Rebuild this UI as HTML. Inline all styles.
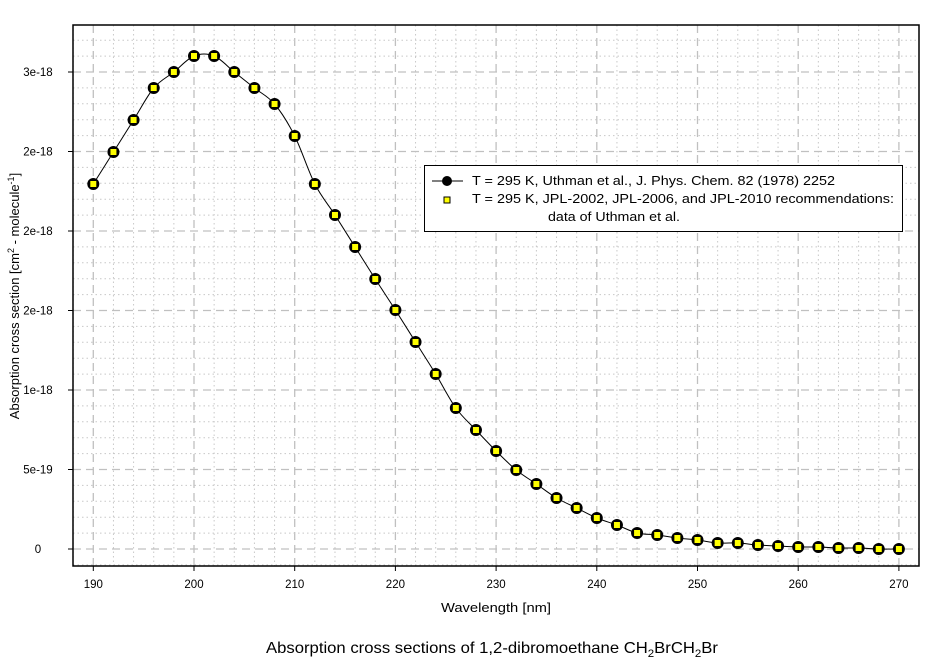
<!DOCTYPE html>
<html><head><meta charset="utf-8"><style>
body{margin:0;background:#fff;width:944px;height:666px;overflow:hidden}
svg{display:block;font-family:"Liberation Sans",Arial,sans-serif}
</style></head><body>
<svg id="s" width="944" height="666" xmlns="http://www.w3.org/2000/svg">
<g id="grid"></g>
<rect x="73" y="25" width="846" height="541" fill="none" stroke="#000" stroke-width="1.5"/>
<g id="ticks" stroke="#000" stroke-width="1"></g>
<g id="lbl" font-size="11.5" fill="#000"></g>
<path id="curve" fill="none" stroke="#000" stroke-width="1"/>
<g id="pts"></g>
<text x="441" y="612" font-size="13" textLength="110" lengthAdjust="spacingAndGlyphs">Wavelength [nm]</text>
<text transform="translate(19,296) rotate(-90)" font-size="13" text-anchor="middle">Absorption cross section [cm<tspan font-size="9" dy="-5">2</tspan><tspan dy="5"> - molecule</tspan><tspan font-size="9" dy="-5">-1</tspan><tspan dy="5">]</tspan></text>
<text x="266" y="653" font-size="16" textLength="452" lengthAdjust="spacingAndGlyphs">Absorption cross sections of 1,2-dibromoethane CH<tspan font-size="11" dy="4">2</tspan><tspan dy="-4">BrCH</tspan><tspan font-size="11" dy="4">2</tspan><tspan dy="-4">Br</tspan></text>
<rect x="424.5" y="165.5" width="478" height="66" fill="#fff" stroke="#000" stroke-width="1"/>
<line x1="432" y1="181" x2="463" y2="181" stroke="#000"/>
<circle cx="447" cy="181" r="5" fill="#000"/>
<rect x="444" y="197" width="6" height="6" fill="#ff0" stroke="#000"/>
<g font-size="13"><text x="472" y="185" textLength="363" lengthAdjust="spacingAndGlyphs">T = 295 K, Uthman et al., J. Phys. Chem. 82 (1978) 2252</text>
<text x="472" y="203" textLength="422" lengthAdjust="spacingAndGlyphs">T = 295 K, JPL-2002, JPL-2006, and JPL-2010 recommendations:</text>
<text x="548" y="221" textLength="132" lengthAdjust="spacingAndGlyphs">data of Uthman et al.</text></g>
</svg>
<script>
const NS="http://www.w3.org/2000/svg";
function el(p,t,a){const e=document.createElementNS(NS,t);for(const k in a)e.setAttribute(k,a[k]);p.appendChild(e);return e;}
const g=document.getElementById('grid'),tk=document.getElementById('ticks'),lb=document.getElementById('lbl');
const X=w=>93.3+(w-190)*10.07, Y0=549, dy=15.9;
for(let w=188;w<=272;w+=2){const x=X(w);if(x<=73||x>=919)continue;const maj=w%10==0;
 el(g,'line',{x1:x,y1:25,x2:x,y2:566,stroke:maj?'#c0c0c0':'#c8c8c8','stroke-width':maj?1.3:1,'stroke-dasharray':maj?'8,5':'1.5,3'});}
for(let i=-1;i<=33;i++){const y=Y0-i*dy;if(y<=25||y>=566)continue;const maj=i%5==0;
 el(g,'line',{x1:73,y1:y,x2:919,y2:y,stroke:maj?'#c0c0c0':'#c8c8c8','stroke-width':maj?1.3:1,'stroke-dasharray':maj?'8,5':'1.5,3'});}
for(let w=190;w<=270;w+=10){const x=X(w);el(tk,'line',{x1:x,y1:566,x2:x,y2:571});const t=el(lb,'text',{x:x,y:588,'text-anchor':'middle'});t.textContent=w;}
const yl=['0','5e-19','1e-18','2e-18','2e-18','2e-18','3e-18'];
for(let i=0;i<7;i++){const y=Y0-i*5*dy;el(tk,'line',{x1:68,y1:y,x2:73,y2:y});const t=el(lb,'text',{x:38,y:y+4,'text-anchor':'middle'});t.textContent=yl[i];}
const py=[184,152,120,88,72,56,56,72,88,104,136,184,215,247,279,310,342,374,408,430,451,470,484,498,508,518,525,533,535,538,540,543,543,545,546,547,547,548,548,549,549];
const P=py.map((y,i)=>[X(190+2*i),y]);
let d='M'+P[0][0]+','+P[0][1];
for(let i=0;i<P.length-1;i++){const p0=P[Math.max(i-1,0)],p1=P[i],p2=P[i+1],p3=P[Math.min(i+2,P.length-1)];
 d+=` C${p1[0]+(p2[0]-p0[0])/6},${p1[1]+(p2[1]-p0[1])/6} ${p2[0]-(p3[0]-p1[0])/6},${p2[1]-(p3[1]-p1[1])/6} ${p2[0]},${p2[1]}`;}
document.getElementById('curve').setAttribute('d',d);
const pg=document.getElementById('pts');
P.forEach(([x,y])=>{el(pg,'circle',{cx:x,cy:y,r:6,fill:'#000'});el(pg,'rect',{x:x-3.5,y:y-3.5,width:7,height:7,fill:'#ff0',stroke:'#000','stroke-width':1});});
</script>
</body></html>
